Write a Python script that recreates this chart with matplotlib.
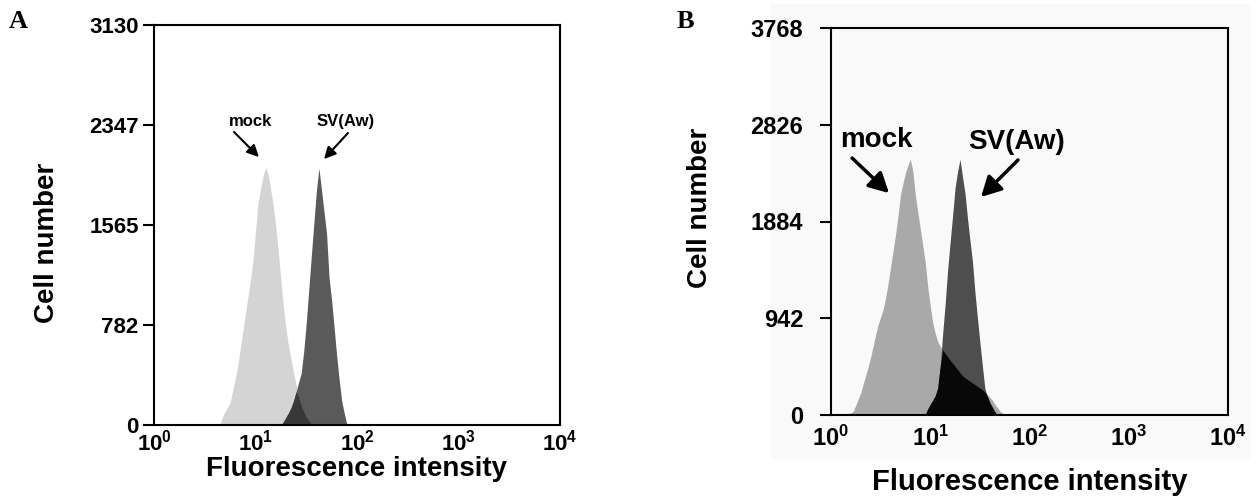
import numpy as np
from matplotlib import pyplot as plt
from matplotlib.patches import Rectangle

plt.rcParams['font.family'] = ['Liberation Sans', 'DejaVu Sans']
plt.rcParams['font.weight'] = 'bold'
plt.rcParams['mathtext.fontset'] = 'custom'
plt.rcParams['mathtext.rm'] = 'Liberation Sans:bold'
plt.rcParams['mathtext.bf'] = 'Liberation Sans:bold'

# Panel A: counts per channel, channels every 0.025 decade from 10^0.6
a_log_start, a_log_step = 0.600, 0.025
a_mock = [0, 0, 0, 65, 105, 140, 175, 270, 360, 465, 600, 730, 870, 1000, 1130,
          1290, 1515, 1737, 1850, 1950, 2015, 1960, 1840, 1715, 1550, 1355, 1135,
          925, 755, 620, 515, 410, 315, 220, 150, 105, 60, 35, 5,
          0, 0, 0, 0, 0, 0, 0, 0, 0, 0, 0, 0, 0, 0, 0, 0]
a_sv = [0] * 26 + [0, 25, 60, 95, 135, 190, 260, 335, 405, 575, 800, 1060, 1325,
                   1580, 1835, 2010, 1840, 1670, 1500, 1150, 975, 760, 540, 350,
                   185, 90, 5, 0, 0]
a_yticks = [0, 782, 1565, 2347, 3130]

# Panel B: channels every 0.025 decade from 10^0.1
b_log_start, b_log_step = 0.100, 0.025
b_mock = [0, 5, 10, 16, 21, 37, 97, 157, 217, 303, 388, 474, 565, 674, 783, 880,
          953, 1027, 1139, 1278, 1438, 1597, 1754, 1938, 2145, 2256, 2359, 2434,
          2490, 2373, 2135, 1973, 1811, 1650, 1481, 1245, 1062, 897, 796, 715,
          670, 635, 600, 567, 535, 504, 474, 443, 412, 381, 362, 345, 329, 312,
          296, 279, 263, 246, 222, 196, 171, 145, 106, 75, 40, 20, 0, 0, 0]
b_sv = [0] * 34 + [5, 60, 103, 144, 186, 262, 471, 791, 1078, 1411, 1679, 1940,
                   2210, 2370, 2490, 2318, 2161, 1918, 1702, 1497, 1200, 947, 710,
                   482, 260, 184, 120, 77, 33, 0, 0, 0, 0, 0, 0]
b_yticks = [0, 942, 1884, 2826, 3768]

xtick_vals = [1, 10, 100, 1000, 10000]
xtick_labels = [r'$\mathbf{10^{%d}}$' % i for i in range(5)]

fig = plt.figure(figsize=(12.57, 4.96), dpi=100)
W, H = 1257.0, 496.0

# faint grey backing of panel B
fig.patches.append(Rectangle((771 / W, 1 - 458 / H), (1249 - 771) / W, (458 - 4) / H,
                             transform=fig.transFigure, color='#f9f9f9', zorder=-10))


def draw_panel(ax, start, step, mock, sv, cols, yticks, tick_fs, tick_pad, xlab_pad):
    mock = np.array(mock, dtype=float)
    sv = np.array(sv, dtype=float)
    x = 10 ** (start + step * np.arange(len(mock)))
    ax.fill_between(x, 0, mock, color=cols[0], lw=0)
    ax.fill_between(x, 0, sv, color=cols[1], lw=0)
    ax.fill_between(x, 0, np.minimum(mock, sv), color=cols[2], lw=0)
    ax.set_xscale('log')
    ax.set_xlim(1, 1e4)
    ax.set_ylim(0, yticks[-1])
    ax.set_yticks(yticks)
    ax.set_yticklabels([str(v) for v in yticks])
    ax.set_xticks(xtick_vals)
    ax.set_xticklabels(xtick_labels)
    ax.xaxis.set_minor_locator(plt.NullLocator())
    ax.tick_params(axis='x', length=0, labelsize=tick_fs, pad=xlab_pad)
    ax.tick_params(axis='y', length=8, width=1.5, labelsize=tick_fs, pad=tick_pad)
    for s in ax.spines.values():
        s.set_linewidth(1.5)
    ax.set_facecolor('none')


# ---- Panel A
axA = fig.add_axes([154 / W, 1 - 425 / H, 406 / W, 400 / H])
draw_panel(axA, a_log_start, a_log_step, a_mock, a_sv,
           ['#d4d4d4', '#5a5a5a', '#383838'], a_yticks, 16, 3, 3)
axA.set_xlabel('Fluorescence intensity', fontsize=20, fontweight='bold', va='center')
axA.xaxis.set_label_coords(0.5, -0.11)
axA.set_ylabel('Cell number', fontsize=20, fontweight='bold', va='center')
axA.yaxis.set_label_coords(-0.264, 0.455)

arrA = dict(arrowstyle='-|>,head_length=0.7,head_width=0.35', lw=1.5, color='black',
            mutation_scale=10, shrinkA=0, shrinkB=0)
axA.annotate('', xy=(10.8, 2097), xytext=(6.14, 2293), arrowprops=arrA)
axA.annotate('', xy=(47.3, 2081), xytext=(81.5, 2285), arrowprops=arrA)
axA.text(8.83, 2371, 'mock', fontsize=12, fontweight='bold', ha='center', va='center')
axA.text(78, 2371, 'SV(Aw)', fontsize=12, fontweight='bold', ha='center', va='center')

# ---- Panel B
axB = fig.add_axes([831 / W, 1 - 415 / H, 397 / W, 387 / H])
draw_panel(axB, b_log_start, b_log_step, b_mock, b_sv,
           ['#a9a9a9', '#4e4e4e', '#080808'], b_yticks, 17, 12, 8)
axB.set_xlabel('Fluorescence intensity', fontsize=21, fontweight='bold', va='center')
axB.xaxis.set_label_coords(0.5, -0.173)
axB.set_ylabel('Cell number', fontsize=20, fontweight='bold', va='center')
axB.yaxis.set_label_coords(-0.33, 0.535)

arrB = dict(arrowstyle='-|>,head_length=0.6,head_width=0.32', lw=2.5, color='black',
            mutation_scale=20, shrinkA=0, shrinkB=0)
axB.annotate('', xy=(3.84, 2161), xytext=(1.63, 2502), arrowprops=arrB)
axB.annotate('', xy=(32.5, 2123), xytext=(76.6, 2483), arrowprops=arrB)
axB.text(2.84, 2677, 'mock', fontsize=20, fontweight='bold', ha='center', va='center')
axB.text(74.8, 2658, 'SV(Aw)', fontsize=20, fontweight='bold', ha='center', va='center')

fig.text(18 / W, 1 - 21 / H, 'A', family='Liberation Serif', fontsize=19,
         fontweight='bold', ha='center', va='center')
fig.text(685 / W, 1 - 21 / H, 'B', family='Liberation Serif', fontsize=19,
         fontweight='bold', ha='center', va='center')

fig.savefig('out.png', dpi=100)
